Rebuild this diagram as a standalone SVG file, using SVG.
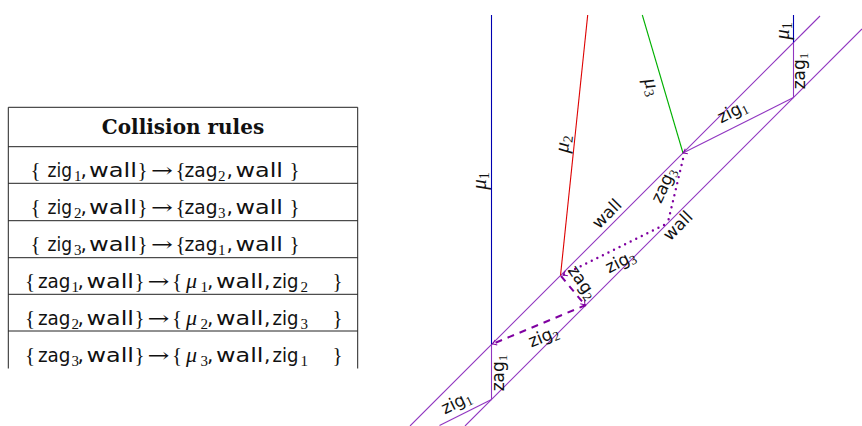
<svg xmlns="http://www.w3.org/2000/svg" width="862" height="426" viewBox="0 0 862 426">
<style>
.tl{stroke:#222;stroke-width:1;fill:none}
.w{font-family:"DejaVu Sans",sans-serif;font-size:20px;fill:#111}
.s{font-family:"Liberation Serif",serif;font-size:15px;fill:#111}
.m{font-family:"Liberation Serif",serif;font-size:21px;fill:#111}
.mu{font-family:"Liberation Serif",serif;font-style:italic;font-size:22px;fill:#111}
.ar{font-family:"DejaVu Serif",serif;font-size:20px;fill:#111}
.hd{font-family:"DejaVu Serif",serif;font-weight:bold;font-size:20px;fill:#111}
.pl{stroke:#9036c0;stroke-width:1.1;fill:none}
.dash{stroke:#7f00a0;stroke-width:2;stroke-dasharray:7 6;fill:none}
.dot{stroke:#7f00a0;stroke-width:2.4;stroke-dasharray:0 6.2;stroke-linecap:round;fill:none}
.lb{font-family:"DejaVu Sans",sans-serif;font-size:17px;fill:#111;text-anchor:middle}
.lb tspan.sub{font-family:"Liberation Serif",serif;font-size:13px}
.lm{font-family:"Liberation Serif",serif;font-style:italic;font-size:21px;fill:#111;text-anchor:middle}
.lm tspan.sub{font-style:normal;font-size:14px}
</style>
<defs>
<marker id="ah" markerUnits="userSpaceOnUse" markerWidth="10" markerHeight="10" refX="0" refY="0" viewBox="-6 -5 8 10" orient="auto" overflow="visible">
<path d="M-4,-2.8 Q-1.2,-0.6 0,0 Q-1.2,0.6 -4,2.8" stroke="#7f00a0" stroke-width="1" fill="none"/>
</marker>
</defs>
<g id="table">
<path class="tl" d="M8.3,368.5 V107.3 H357.7 V368.5"/>
<path class="tl" d="M8.3,146.7 H357.7 M8.3,183.3 H357.7 M8.3,220.7 H357.7 M8.3,257.7 H357.7 M8.3,294.3 H357.7 M8.3,331 H357.7"/>
<text class="hd" x="183" y="134" text-anchor="middle">Collision rules</text>
<g id="row1">
<text class="m" x="30.5" y="177.3">{</text><text class="w" x="47.5" y="177.3" textLength="24.5" lengthAdjust="spacingAndGlyphs">zig</text><text class="s" x="74" y="181.3">1</text><text class="w" x="80.5" y="177.3">,</text><text class="w" x="89" y="177.3" textLength="48" lengthAdjust="spacingAndGlyphs">wall</text><text class="m" x="137.5" y="177.3">}</text><text class="ar" x="151" y="177.3" textLength="22" lengthAdjust="spacingAndGlyphs">→</text><text class="m" x="175.5" y="177.3">{</text><text class="w" x="184.5" y="177.3" textLength="33" lengthAdjust="spacingAndGlyphs">zag</text><text class="s" x="218" y="181.3">2</text><text class="w" x="226.5" y="177.3">,</text><text class="w" x="235.5" y="177.3" textLength="47.5" lengthAdjust="spacingAndGlyphs">wall</text><text class="m" x="289.5" y="177.3">}</text>
</g>
<g id="row2">
<text class="m" x="30.5" y="214.3">{</text><text class="w" x="47.5" y="214.3" textLength="24.5" lengthAdjust="spacingAndGlyphs">zig</text><text class="s" x="74" y="218.3">2</text><text class="w" x="80.5" y="214.3">,</text><text class="w" x="89" y="214.3" textLength="48" lengthAdjust="spacingAndGlyphs">wall</text><text class="m" x="137.5" y="214.3">}</text><text class="ar" x="151" y="214.3" textLength="22" lengthAdjust="spacingAndGlyphs">→</text><text class="m" x="175.5" y="214.3">{</text><text class="w" x="184.5" y="214.3" textLength="33" lengthAdjust="spacingAndGlyphs">zag</text><text class="s" x="218" y="218.3">3</text><text class="w" x="226.5" y="214.3">,</text><text class="w" x="235.5" y="214.3" textLength="47.5" lengthAdjust="spacingAndGlyphs">wall</text><text class="m" x="289.5" y="214.3">}</text>
</g>
<g id="row3">
<text class="m" x="30.5" y="251.3">{</text><text class="w" x="47.5" y="251.3" textLength="24.5" lengthAdjust="spacingAndGlyphs">zig</text><text class="s" x="74" y="255.3">3</text><text class="w" x="80.5" y="251.3">,</text><text class="w" x="89" y="251.3" textLength="48" lengthAdjust="spacingAndGlyphs">wall</text><text class="m" x="137.5" y="251.3">}</text><text class="ar" x="151" y="251.3" textLength="22" lengthAdjust="spacingAndGlyphs">→</text><text class="m" x="175.5" y="251.3">{</text><text class="w" x="184.5" y="251.3" textLength="33" lengthAdjust="spacingAndGlyphs">zag</text><text class="s" x="218" y="255.3">1</text><text class="w" x="226.5" y="251.3">,</text><text class="w" x="235.5" y="251.3" textLength="47.5" lengthAdjust="spacingAndGlyphs">wall</text><text class="m" x="289.5" y="251.3">}</text>
</g>
<g id="row4">
<text class="m" x="25" y="288.3">{</text><text class="w" x="38" y="288.3" textLength="32.5" lengthAdjust="spacingAndGlyphs">zag</text><text class="s" x="71.5" y="292.3">1</text><text class="w" x="77.5" y="288.3">,</text><text class="w" x="86.5" y="288.3" textLength="47.5" lengthAdjust="spacingAndGlyphs">wall</text><text class="m" x="134.5" y="288.3">}</text><text class="ar" x="147.5" y="288.3" textLength="22" lengthAdjust="spacingAndGlyphs">→</text><text class="m" x="172" y="288.3">{</text><text class="mu" x="186" y="288.3">μ</text><text class="s" x="200.5" y="292.3">1</text><text class="w" x="207" y="288.3">,</text><text class="w" x="216" y="288.3" textLength="47.5" lengthAdjust="spacingAndGlyphs">wall</text><text class="w" x="264" y="288.3">,</text><text class="w" x="272.5" y="288.3" textLength="26" lengthAdjust="spacingAndGlyphs">zig</text><text class="s" x="300.5" y="292.3">2</text><text class="m" x="332.5" y="288.3">}</text>
</g>
<g id="row5">
<text class="m" x="25" y="325.3">{</text><text class="w" x="38" y="325.3" textLength="32.5" lengthAdjust="spacingAndGlyphs">zag</text><text class="s" x="71.5" y="329.3">2</text><text class="w" x="77.5" y="325.3">,</text><text class="w" x="86.5" y="325.3" textLength="47.5" lengthAdjust="spacingAndGlyphs">wall</text><text class="m" x="134.5" y="325.3">}</text><text class="ar" x="147.5" y="325.3" textLength="22" lengthAdjust="spacingAndGlyphs">→</text><text class="m" x="172" y="325.3">{</text><text class="mu" x="186" y="325.3">μ</text><text class="s" x="200.5" y="329.3">2</text><text class="w" x="207" y="325.3">,</text><text class="w" x="216" y="325.3" textLength="47.5" lengthAdjust="spacingAndGlyphs">wall</text><text class="w" x="264" y="325.3">,</text><text class="w" x="272.5" y="325.3" textLength="26" lengthAdjust="spacingAndGlyphs">zig</text><text class="s" x="300.5" y="329.3">3</text><text class="m" x="332.5" y="325.3">}</text>
</g>
<g id="row6">
<text class="m" x="25" y="362.3">{</text><text class="w" x="38" y="362.3" textLength="32.5" lengthAdjust="spacingAndGlyphs">zag</text><text class="s" x="71.5" y="366.3">3</text><text class="w" x="77.5" y="362.3">,</text><text class="w" x="86.5" y="362.3" textLength="47.5" lengthAdjust="spacingAndGlyphs">wall</text><text class="m" x="134.5" y="362.3">}</text><text class="ar" x="147.5" y="362.3" textLength="22" lengthAdjust="spacingAndGlyphs">→</text><text class="m" x="172" y="362.3">{</text><text class="mu" x="186" y="362.3">μ</text><text class="s" x="200.5" y="366.3">3</text><text class="w" x="207" y="362.3">,</text><text class="w" x="216" y="362.3" textLength="47.5" lengthAdjust="spacingAndGlyphs">wall</text><text class="w" x="264" y="362.3">,</text><text class="w" x="272.5" y="362.3" textLength="26" lengthAdjust="spacingAndGlyphs">zig</text><text class="s" x="300.5" y="366.3">1</text><text class="m" x="332.5" y="362.3">}</text>
</g>
</g>
<g id="connectors">
<line class="pl" x1="410" y1="426" x2="820" y2="16"/>
<line class="pl" x1="465" y1="426" x2="862" y2="29"/>
<line stroke="#0000b0" stroke-width="1.1" x1="491.5" y1="15" x2="491.5" y2="344.5"/>
<line class="pl" x1="491.5" y1="344.5" x2="491.5" y2="399.5"/>
<line class="pl" x1="439.5" y1="425.5" x2="491.5" y2="399.5"/>
<line class="dash" x1="586" y1="305" x2="492.5" y2="344" marker-end="url(#ah)"/>
<line class="dash" x1="561" y1="276" x2="585" y2="305" marker-end="url(#ah)"/>
<line stroke="#dd0000" stroke-width="1.1" x1="587.7" y1="15" x2="560.5" y2="275.5"/>
<line class="dot" x1="683" y1="159" x2="668" y2="222"/>
<line class="dot" x1="664" y1="225" x2="563" y2="275" marker-end="url(#ah)"/>
<line stroke="#00b000" stroke-width="1.1" x1="642.3" y1="15" x2="683" y2="153"/>
<line class="pl" x1="793.5" y1="97.5" x2="683" y2="153" marker-end="url(#ah)"/>
<line class="pl" x1="793.5" y1="97.5" x2="793.5" y2="42.5"/>
<line stroke="#0000b0" stroke-width="1.1" x1="793.5" y1="42.5" x2="793.5" y2="15"/>
</g>
<g id="labels">
<text class="lm" transform="translate(481,181) rotate(-90)" y="5">μ<tspan class="sub" dy="3">1</tspan></text>
<text class="lm" transform="translate(564,144) rotate(-84)" y="5">μ<tspan class="sub" dy="3">2</tspan></text>
<text class="lm" transform="translate(651,87) rotate(74)" y="5">μ<tspan class="sub" dy="3">3</tspan></text>
<text class="lm" transform="translate(784,31) rotate(-90)" y="5">μ<tspan class="sub" dy="3">1</tspan></text>
<text class="lb" transform="translate(801,71) rotate(-90)" y="4">zag<tspan class="sub" dy="3">1</tspan></text>
<text class="lb" transform="translate(733,113) rotate(-26.6)" y="4">zig<tspan class="sub" dy="3">1</tspan></text>
<text class="lb" transform="translate(665,186) rotate(-65)" y="4">zag<tspan class="sub" dy="3">3</tspan></text>
<text class="lb" transform="translate(608,215) rotate(-45)" y="4">wall</text>
<text class="lb" transform="translate(679,227) rotate(-45)" y="4">wall</text>
<text class="lb" transform="translate(621,263) rotate(-27)" y="4">zig<tspan class="sub" dy="3">3</tspan></text>
<text class="lb" transform="translate(581,283) rotate(55)" y="4">zag<tspan class="sub" dy="3">2</tspan></text>
<text class="lb" transform="translate(544,338) rotate(-22)" y="4">zig<tspan class="sub" dy="3">2</tspan></text>
<text class="lb" transform="translate(500,373) rotate(-90)" y="4">zag<tspan class="sub" dy="3">1</tspan></text>
<text class="lb" transform="translate(457,404) rotate(-26)" y="4">zig<tspan class="sub" dy="3">1</tspan></text>
</g>
</svg>
